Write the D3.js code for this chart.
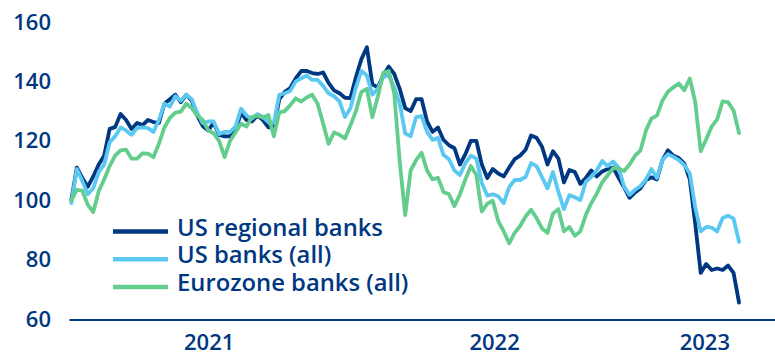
<!DOCTYPE html>
<html lang="en">
<head>
<meta charset="UTF-8">
<title>Bank indices</title>
<script src="https://d3js.org/d3.v7.min.js"></script>
<style>
  html, body { margin: 0; padding: 0; background: #fff; }
  svg { display: block; font-family: "Open Sans", Lato, sans-serif; }
</style>
</head>
<body>
<div id="vis"><svg width="775" height="355"></svg></div>
<script>

// weekly observations, index start = 100
const dates = [
  "2021-01-04","2021-01-11","2021-01-18","2021-01-25","2021-02-01","2021-02-08","2021-02-15","2021-02-22",
  "2021-03-01","2021-03-08","2021-03-15","2021-03-22","2021-03-29","2021-04-05","2021-04-12","2021-04-19",
  "2021-04-26","2021-05-03","2021-05-10","2021-05-17","2021-05-24","2021-05-31","2021-06-07","2021-06-14",
  "2021-06-21","2021-06-28","2021-07-05","2021-07-12","2021-07-19","2021-07-26","2021-08-02","2021-08-09",
  "2021-08-16","2021-08-23","2021-08-30","2021-09-06","2021-09-13","2021-09-20","2021-09-27","2021-10-04",
  "2021-10-11","2021-10-18","2021-10-25","2021-11-01","2021-11-08","2021-11-15","2021-11-22","2021-11-29",
  "2021-12-06","2021-12-13","2021-12-20","2021-12-27",
  "2022-01-03","2022-01-10","2022-01-17","2022-01-24","2022-01-31","2022-02-07","2022-02-14","2022-02-21",
  "2022-02-28","2022-03-07","2022-03-14","2022-03-21","2022-03-28","2022-04-04","2022-04-11","2022-04-18",
  "2022-04-25","2022-05-02","2022-05-09","2022-05-16","2022-05-23","2022-05-30","2022-06-06","2022-06-13",
  "2022-06-20","2022-06-27","2022-07-04","2022-07-11","2022-07-18","2022-07-25","2022-08-01","2022-08-08",
  "2022-08-15","2022-08-22","2022-08-29","2022-09-05","2022-09-12","2022-09-19","2022-09-26","2022-10-03",
  "2022-10-10","2022-10-17","2022-10-24","2022-10-31","2022-11-07","2022-11-14","2022-11-21","2022-11-28",
  "2022-12-05","2022-12-12","2022-12-19","2022-12-26",
  "2023-01-02","2023-01-09","2023-01-16","2023-01-23","2023-01-30","2023-02-06","2023-02-13","2023-02-20",
  "2023-02-27","2023-03-06","2023-03-13","2023-03-20","2023-03-27","2023-04-03","2023-04-10","2023-04-17",
  "2023-04-24","2023-05-01","2023-05-08"
];

const usRegional = [
  100, 111, 107.5, 104.5, 108, 112, 115, 124, 124.6, 129, 127, 124, 126, 125.3, 127, 126.3,
  126, 132.5, 134, 135.5, 133, 135.5, 133.5, 128.5, 125, 123.5, 126, 122, 121.5, 121.5, 123.5, 129.5,
  127, 126.5, 128.5, 127, 124.5, 124.5, 134, 136.5, 137.8, 141, 143.5, 143.5, 142.8, 142.5, 143, 139.5,
  137, 136, 134.5, 134.4,
  141.5, 147.5, 151.5, 139, 138, 142, 145, 142.5, 137.5, 131, 130, 134, 134, 126.5, 123, 124.5,
  120.3, 118.5, 117.5, 112, 115.5, 120, 120, 112, 107.5, 110.5, 109, 108, 111, 113.8, 115, 117,
  121.8, 121, 118, 112, 116.5, 114, 106, 110.2, 109.5, 105.5, 107.5, 110, 108, 109.7, 110.5, 111,
  107.5, 104.3, 100.8, 102.6,
  104, 106.8, 107.7, 107, 113.5, 116.8, 115, 114.2, 112.3, 107, 92, 75.5, 78.5, 76.5, 77, 76.5,
  78, 75.5, 65.5
];

const usAll = [
  99, 110.5, 106.5, 102, 104, 109.5, 112, 119.5, 121.5, 124.5, 123.5, 122, 124.3, 124.5, 124.3, 123,
  127, 132.5, 131.5, 135, 133.5, 135.5, 134, 129.4, 126, 126.5, 126.5, 122.3, 123, 123, 124.8, 130.8,
  128.5, 127.5, 129, 128, 126.3, 126, 135.5, 136, 136.8, 140, 141, 142, 140.5, 140.5, 138.5, 136,
  135, 133.3, 128, 131,
  138, 143.5, 142, 135.5, 137.5, 141.5, 142, 138, 132.5, 122.5, 121.5, 128, 128.3, 123, 120.3, 121,
  115.2, 113.8, 110, 108.5, 112.5, 115, 114, 105.8, 101.5, 102, 101.3, 99, 104.4, 106.8, 106.8, 107.8,
  112.5, 111.5, 107.8, 104, 109.5, 102.8, 97, 101.7, 101, 100, 106.2, 107.8, 110, 113.2, 111.5, 113,
  111, 104.5, 101.8, 103.5,
  104.8, 107, 110.5, 107.5, 113.5, 115.5, 114.6, 113.5, 111.8, 109, 97.5, 89.5, 91, 90.8, 89.5, 94,
  94.8, 93.8, 86
];

const eurozone = [
  100, 103.5, 103.2, 98.5, 96, 103, 107, 111.5, 115, 116.8, 117, 114, 114, 115.8, 115.7, 114.5,
  119, 124.5, 127.7, 129.5, 129.8, 132.5, 131, 128.5, 127, 123.6, 122.5, 120, 114.5, 120, 122.8, 125.8,
  124.8, 128, 128.5, 127.8, 128.7, 121.5, 129.6, 130, 132, 134.3, 133.2, 134.6, 135.5, 132.5, 125.8, 119,
  122.8, 122, 120.8, 125.2,
  130, 136.5, 137.5, 128, 134.8, 143, 143.5, 136, 113, 95, 110, 113.5, 116, 110, 107, 107.5,
  102.8, 102, 98, 102, 107, 111.5, 108.5, 96.2, 98.8, 99.8, 93, 89.5, 85.5, 89, 91.3, 94.5,
  96.8, 94, 90.5, 89, 95.5, 97, 89.5, 91, 88, 89.5, 95, 99, 102.2, 106, 108.4, 110.8,
  110.7, 109.8, 112, 115,
  116.8, 123.5, 127.5, 128.5, 133.5, 136.5, 138, 139.3, 137, 141, 133, 116.5, 120.5, 124.8, 127.2, 133.3,
  133, 130.2, 122.6
];

const seriesNames = ["US regional banks", "US banks (all)", "Eurozone banks (all)"];
const seriesColors = ["#003781", "#5bc8f2", "#62cd8d"];
const yTicks = [60, 80, 100, 120, 140, 160];
const yearLabels = [2021, 2022, 2023];

const navy = "#003781";
const parse = d3.utcParse("%Y-%m-%d");
const dateObjs = dates.map(parse);
const series = [usRegional, usAll, eurozone];

const svg = d3.select("svg");
const x0 = 69, x1 = 775, axisY = 319.5;

const xStart = parse("2021-01-01"), xEnd = parse("2023-06-23");
const x = d3.scaleUtc().domain([xStart, xEnd]).range([x0, x1]);
const y = d3.scaleLinear().domain([60, 160]).range([319, 22]);

// y labels
const yAxis = d3.axisLeft(y).tickValues(yTicks).tickSize(0).tickPadding(18);
const gy = svg.append("g").attr("transform", `translate(${x0},0)`).call(yAxis);
gy.select(".domain").remove();
gy.selectAll("text")
  .attr("fill", navy)
  .style("font-size", "22px")
  .style("font-weight", 600)
  .style("font-family", "'Open Sans', sans-serif");

// year labels centred on the visible part of each year
const yearMid = yearLabels.map(yr => {
  const a = d3.max([parse(yr + "-01-01"), xStart]);
  const b = d3.min([parse((yr + 1) + "-01-01"), xEnd]);
  return new Date((a.getTime() + b.getTime()) / 2);
});
const xAxis = d3.axisBottom(x)
  .tickValues(yearMid)
  .tickFormat(d3.utcFormat("%Y"))
  .tickSize(0)
  .tickSizeOuter(0)
  .tickPadding(15);
const gx = svg.append("g").attr("transform", `translate(0,${axisY})`).call(xAxis);
gx.select(".domain").attr("stroke", navy).attr("stroke-width", 2);
gx.selectAll("text")
  .attr("fill", navy)
  .attr("dx", "-3px")
  .style("font-size", "22px")
  .style("font-weight", 600)
  .style("font-family", "'Open Sans', sans-serif");

// lines
const line = d3.line()
  .x((d, i) => x(dateObjs[i]))
  .y(d => y(d));

svg.append("g")
  .selectAll("path")
  .data(series)
  .join("path")
  .attr("d", d => line(d))
  .attr("fill", "none")
  .attr("stroke", (d, i) => seriesColors[i])
  .attr("stroke-width", 3.8)
  .attr("stroke-linejoin", "round")
  .attr("stroke-linecap", "round");

// legend
const legend = svg.append("g").attr("transform", "translate(113,231.5)");
const rows = legend.selectAll("g")
  .data(seriesNames)
  .join("g")
  .attr("transform", (d, i) => `translate(0,${i * 27.8})`);
rows.append("line")
  .attr("x1", 0).attr("x2", 55)
  .attr("stroke", (d, i) => seriesColors[i])
  .attr("stroke-width", 4.5);
const legendText = rows.append("text")
  .attr("x", 64)
  .attr("y", 4)
  .attr("fill", navy)
  .style("font-size", "23px")
  .style("font-weight", 600)
  .text(d => d);

// size the legend font so the first label spans about 206px, as in the source
const w0 = legendText.node().getComputedTextLength();
legendText.style("font-size", (23 * 206 / w0).toFixed(2) + "px");

</script>
</body>
</html>
